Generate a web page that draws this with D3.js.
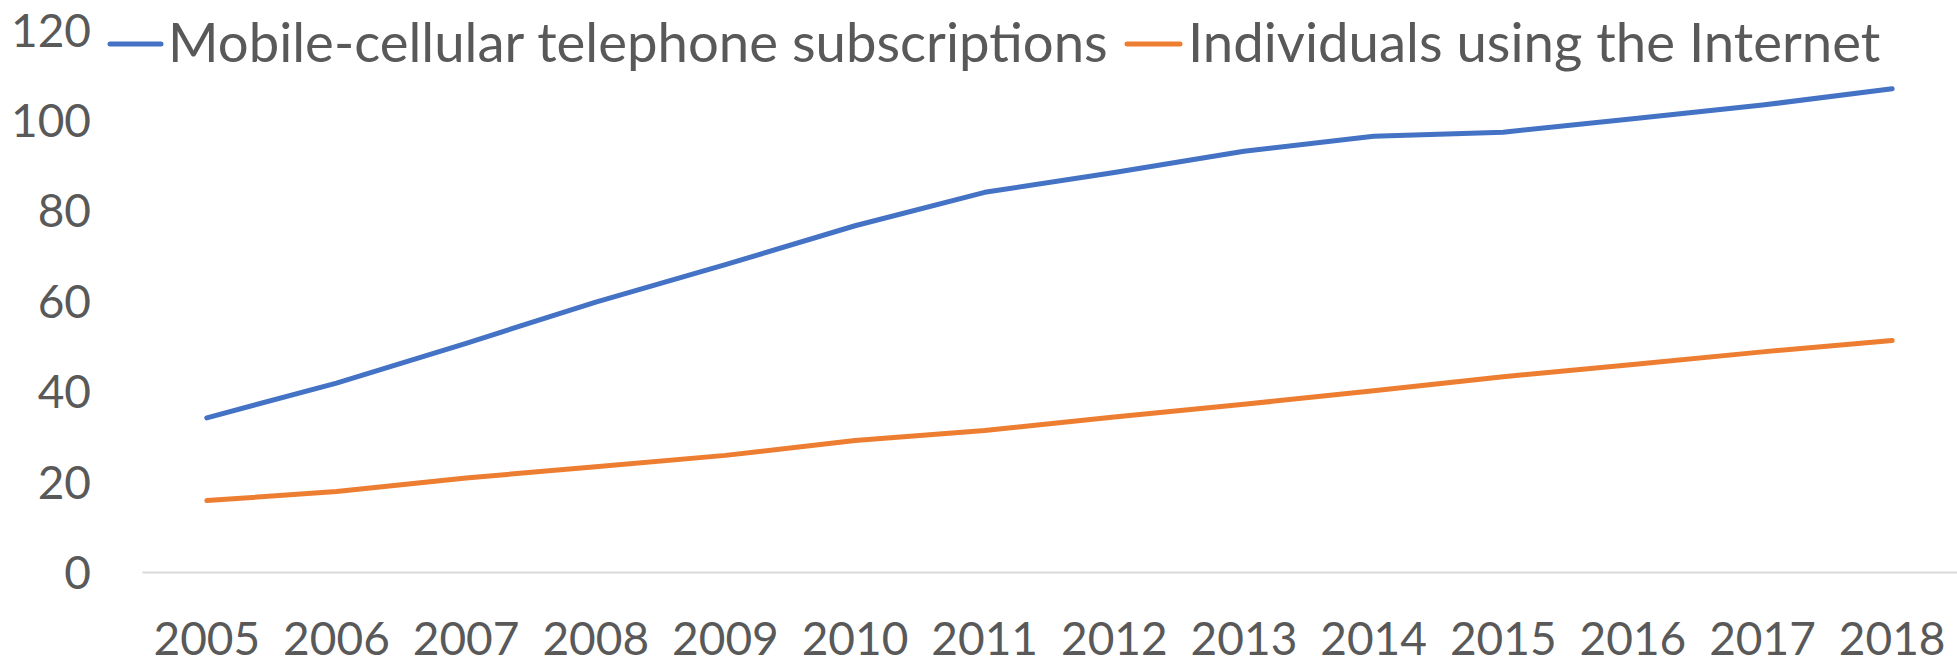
<!DOCTYPE html>
<html>
<head>
<meta charset="utf-8">
<script src="https://cdn.jsdelivr.net/npm/d3@7/dist/d3.min.js"></script>
<style>
  html, body { margin: 0; padding: 0; background: #fff; }
  svg { display: block; }
</style>
</head>
<body>
<svg id="chart" width="1957" height="660"></svg>
<script>
const years = ["2005","2006","2007","2008","2009","2010","2011","2012","2013","2014","2015","2016","2017","2018"];
const mobileSubs = [34.1, 41.8, 50.6, 59.7, 68.0, 76.6, 84.0, 88.4, 93.1, 96.4, 97.3, 100.3, 103.3, 106.9];
const internetUsers = [15.8, 17.8, 20.8, 23.3, 25.8, 29.1, 31.3, 34.3, 37.1, 40.1, 43.2, 45.9, 48.7, 51.2];
const yTicks = [0, 20, 40, 60, 80, 100, 120];
const seriesNames = ["Mobile-cellular telephone subscriptions", "Individuals using the Internet"];
const seriesColors = ["#4472C4", "#ED7D31"];

const svg = d3.select("#chart");
const FONT = "Lato, 'Open Sans', sans-serif";
const textColor = "#595959";

const x = d3.scaleBand().domain(years).range([142, 1957]).padding(0);
const y = d3.scaleLinear().domain([0, 120]).range([572, 29.6]);

// Y axis labels
const yAxis = d3.axisLeft(y).tickValues(yTicks).tickSize(0).tickPadding(51);
const gy = svg.append("g").attr("transform", "translate(142,0)").call(yAxis);
gy.select(".domain").remove();
gy.selectAll("text")
  .attr("fill", textColor)
  .style("font-family", FONT)
  .style("font-size", "46px")
  .attr("dy", "0.36em");

// X axis (baseline)
const xAxis = d3.axisBottom(x).tickSize(0).tickSizeOuter(0);
const gx = svg.append("g").attr("transform", "translate(0,572)").call(xAxis);
gx.select(".domain").attr("stroke", "#d9d9d9").attr("stroke-width", 2);
gx.selectAll("text")
  .attr("fill", textColor)
  .style("font-family", FONT)
  .style("font-size", "46px")
  .attr("y", 83)
  .attr("dy", 0);

// Lines
const series = [mobileSubs, internetUsers];
const line = d3.line()
  .x((d, i) => x(years[i]) + x.bandwidth() / 2)
  .y(d => y(d));

series.forEach((vals, k) => {
  svg.append("path")
    .datum(vals)
    .attr("d", line)
    .attr("fill", "none")
    .attr("stroke", seriesColors[k])
    .attr("stroke-width", 5)
    .attr("stroke-linecap", "round")
    .attr("stroke-linejoin", "round");
});

// Legend
const legendItems = [
  { x1: 110, x2: 161, tx: 168 },
  { x1: 1127, x2: 1180, tx: 1188 }
];
legendItems.forEach((it, k) => {
  const g = svg.append("g");
  g.append("line")
    .attr("x1", it.x1).attr("x2", it.x2)
    .attr("y1", 44).attr("y2", 44)
    .attr("stroke", seriesColors[k])
    .attr("stroke-width", 5)
    .attr("stroke-linecap", "round");
  g.append("text")
    .attr("x", it.tx).attr("y", 62)
    .attr("fill", textColor)
    .style("font-family", FONT)
    .style("font-size", "54.5px")
    .text(seriesNames[k]);
});
</script>
</body>
</html>
